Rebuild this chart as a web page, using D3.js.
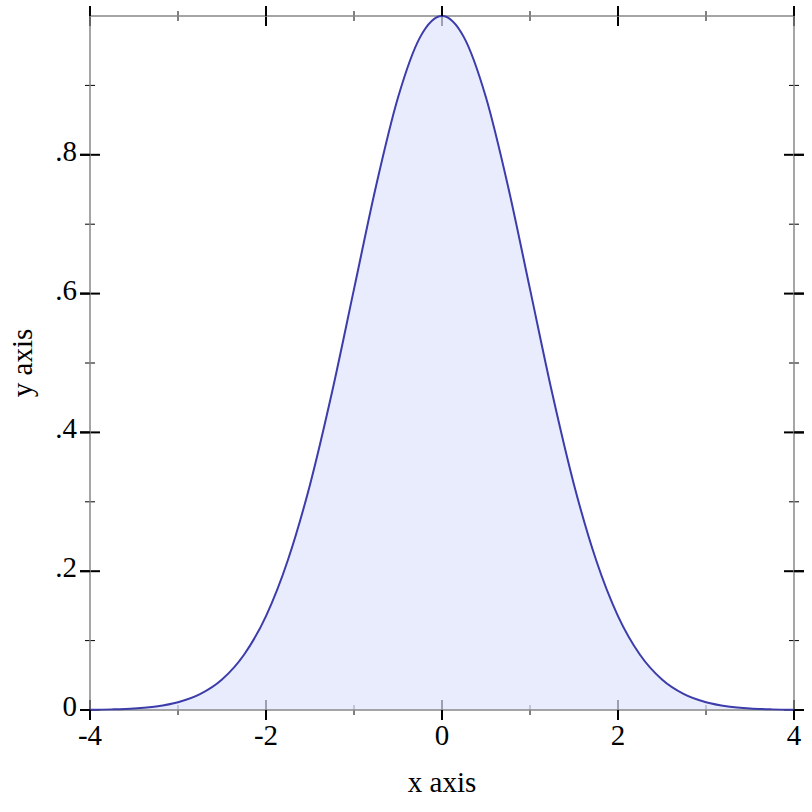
<!DOCTYPE html>
<html>
<head>
<meta charset="utf-8">
<script src="https://cdn.jsdelivr.net/npm/d3@7"></script>
<style>
  html, body { margin: 0; padding: 0; background: #fff; }
  svg { display: block; }
  text { font-family: "Liberation Serif", "Times New Roman", serif; fill: #000; }
</style>
</head>
<body>
<svg id="chart" width="812" height="812"></svg>
<script>
// Data
const xValues = [-4, -3.75, -3.5, -3.25, -3, -2.75, -2.5, -2.25, -2, -1.75, -1.5, -1.25, -1, -0.75, -0.5, -0.25,
                 0, 0.25, 0.5, 0.75, 1, 1.25, 1.5, 1.75, 2, 2.25, 2.5, 2.75, 3, 3.25, 3.5, 3.75, 4];
const yValues = [0.0003, 0.0009, 0.0022, 0.0051, 0.0111, 0.0228, 0.0439, 0.0796, 0.1353, 0.2165, 0.3247, 0.4578, 0.6065, 0.7548, 0.8825, 0.9692,
                 1.0, 0.9692, 0.8825, 0.7548, 0.6065, 0.4578, 0.3247, 0.2165, 0.1353, 0.0796, 0.0439, 0.0228, 0.0111, 0.0051, 0.0022, 0.0009, 0.0003];
const xMajorTicks = [-4, -2, 0, 2, 4];
const xMinorTicks = [-3, -1, 1, 3];
const xTickLabels = ["-4", "-2", "0", "2", "4"];
const yMajorTicks = [0, 0.2, 0.4, 0.6, 0.8];
const yMinorTicks = [0.1, 0.3, 0.5, 0.7, 0.9];
const yTickLabels = ["0", ".2", ".4", ".6", ".8"];
const xTitle = "x axis";
const yTitle = "y axis";

const data = xValues.map((x, i) => ({ x: x, y: yValues[i] }));

const pLeft = 90, pRight = 794, pTop = 16, pBottom = 710;
const x = d3.scaleLinear().domain([-4, 4]).range([pLeft, pRight]);
const y = d3.scaleLinear().domain([0, 1]).range([pBottom, pTop]);

const svg = d3.select("#chart");

// Ticks (drawn first so the fill covers their inner parts)
const ticks = svg.append("g").attr("stroke", "#000");
const major = 10, minor = 5;
[pBottom, pTop].forEach(yy => {
  ticks.selectAll(null).data(xMajorTicks).enter().append("line")
    .attr("x1", d => x(d)).attr("x2", d => x(d))
    .attr("y1", yy - major).attr("y2", yy + major).attr("stroke-width", 2);
  ticks.selectAll(null).data(xMinorTicks).enter().append("line")
    .attr("x1", d => x(d)).attr("x2", d => x(d))
    .attr("y1", yy - minor).attr("y2", yy + minor).attr("stroke-width", 1);
});
[pLeft, pRight].forEach(xx => {
  ticks.selectAll(null).data(yMajorTicks).enter().append("line")
    .attr("y1", d => y(d)).attr("y2", d => y(d))
    .attr("x1", xx - major).attr("x2", xx + major).attr("stroke-width", 2);
  ticks.selectAll(null).data(yMinorTicks).enter().append("line")
    .attr("y1", d => y(d)).attr("y2", d => y(d))
    .attr("x1", xx - minor).attr("x2", xx + minor).attr("stroke-width", 1);
});

// Filled area
const area = d3.area().x(d => x(d.x)).y0(y(0)).y1(d => y(d.y)).curve(d3.curveMonotoneX);
svg.append("path").datum(data).attr("d", area)
  .attr("fill", "rgb(224,228,252)").attr("fill-opacity", 0.7);

// Plot frame
svg.append("rect")
  .attr("x", pLeft).attr("y", pTop).attr("width", pRight - pLeft).attr("height", pBottom - pTop)
  .attr("fill", "none").attr("stroke", "#888").attr("stroke-width", 1.5);

// Line
const line = d3.line().x(d => x(d.x)).y(d => y(d.y)).curve(d3.curveMonotoneX);
svg.append("path").datum(data).attr("d", line)
  .attr("fill", "none").attr("stroke", "#3c3caa").attr("stroke-width", 2);

// Redraw outer halves of major ticks on top of frame
const outer = svg.append("g").attr("stroke", "#000");
outer.selectAll(null).data(xMajorTicks).enter().append("line")
  .attr("x1", d => x(d)).attr("x2", d => x(d)).attr("y1", pBottom).attr("y2", pBottom + major).attr("stroke-width", 2);
outer.selectAll(null).data(xMajorTicks).enter().append("line")
  .attr("x1", d => x(d)).attr("x2", d => x(d)).attr("y1", pTop - major).attr("y2", pTop).attr("stroke-width", 2);
outer.selectAll(null).data(yMajorTicks).enter().append("line")
  .attr("y1", d => y(d)).attr("y2", d => y(d)).attr("x1", pLeft - major).attr("x2", pLeft).attr("stroke-width", 2);
outer.selectAll(null).data(yMajorTicks).enter().append("line")
  .attr("y1", d => y(d)).attr("y2", d => y(d)).attr("x1", pRight).attr("x2", pRight + major).attr("stroke-width", 2);

// Tick labels
const fs = 29;
svg.append("g").selectAll("text").data(xMajorTicks).enter().append("text")
  .attr("x", d => x(d)).attr("y", pBottom + 35)
  .attr("text-anchor", "middle").attr("font-size", fs)
  .text((d, i) => xTickLabels[i]);
svg.append("g").selectAll("text").data(yMajorTicks).enter().append("text")
  .attr("x", pLeft - 13).attr("y", d => y(d) + 6)
  .attr("text-anchor", "end").attr("font-size", fs)
  .text((d, i) => yTickLabels[i]);

// Axis titles
svg.append("text").attr("x", (pLeft + pRight) / 2).attr("y", 792)
  .attr("text-anchor", "middle").attr("font-size", fs).text(xTitle);
svg.append("text").attr("transform", `translate(32, ${(pTop + pBottom) / 2}) rotate(-90)`)
  .attr("text-anchor", "middle").attr("font-size", fs).text(yTitle);
</script>
</body>
</html>
